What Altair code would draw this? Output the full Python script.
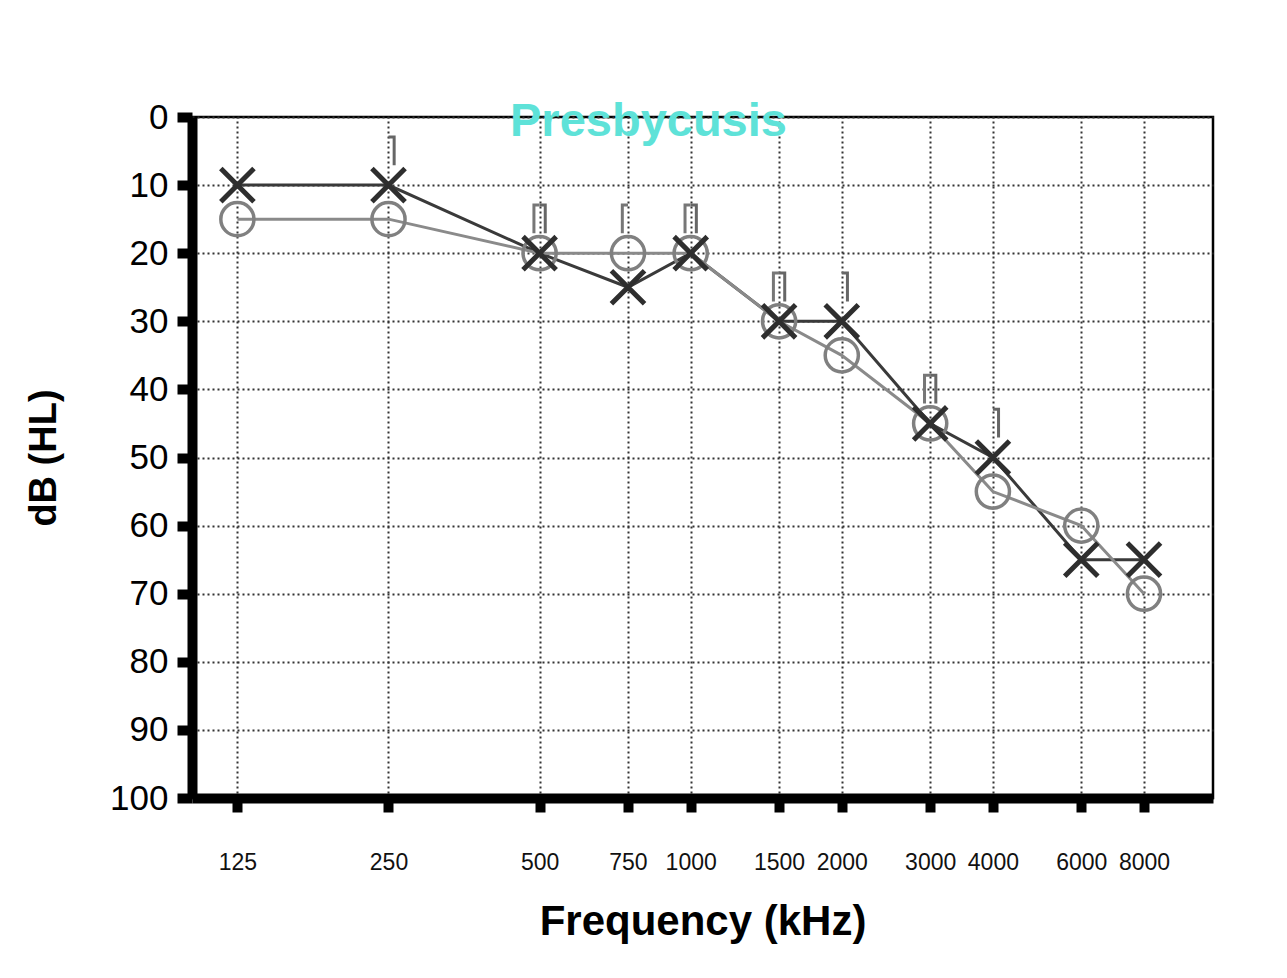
import altair as alt
import pandas as pd

# ---- data ----
freqs = [125, 250, 500, 750, 1000, 1500, 2000, 3000, 4000, 6000, 8000]
left_air_x = [10, 10, 20, 25, 20, 30, 30, 45, 50, 65, 65]      # X markers
right_air_o = [15, 15, 20, 20, 20, 30, 35, 45, 55, 60, 70]     # O markers

bone_a_freqs = [250, 500, 1000, 1500, 2000, 3000, 4000]        # right-hand bracket
bone_a_vals = [5, 15, 15, 25, 25, 40, 45]
bone_b_freqs = [500, 750, 1000, 1500, 3000]                     # left-hand bracket
bone_b_vals = [15, 15, 15, 25, 40]

y_ticks = [0, 10, 20, 30, 40, 50, 60, 70, 80, 90, 100]

df_x = pd.DataFrame({"freq": freqs, "db": left_air_x})
df_o = pd.DataFrame({"freq": freqs, "db": right_air_o})
df_ba = pd.DataFrame({"freq": bone_a_freqs, "db": bone_a_vals})
df_bb = pd.DataFrame({"freq": bone_b_freqs, "db": bone_b_vals})

FONT = "Liberation Sans"

x_enc = alt.X(
    "freq:Q",
    scale=alt.Scale(type="log", domain=[101.5, 10980], nice=False),
    axis=alt.Axis(
        values=freqs, format="d", title="Frequency (kHz)",
        labelFontSize=23, labelColor="#111", labelPadding=39,
        tickSize=14, tickWidth=10, tickColor="black",
        domainWidth=10, domainColor="black",
        titleFontSize=42, titleFontWeight="bold", titleColor="black", titlePadding=27,
        grid=True, gridDash=[2, 3], gridWidth=2, gridColor="#333",
        labelFlush=False,
    ),
)
y_enc = alt.Y(
    "db:Q",
    scale=alt.Scale(domain=[0, 100], reverse=True, nice=False),
    axis=alt.Axis(
        values=y_ticks, title="dB (HL)",
        labelFontSize=35, labelColor="black", labelPadding=9,
        tickSize=15, tickWidth=10, tickColor="black",
        domainWidth=10, domainColor="black",
        titleFontSize=38, titleFontWeight="bold", titleColor="black", titlePadding=46,
        grid=True, gridDash=[2, 3], gridWidth=2, gridColor="#333",
        labelFlush=False,
    ),
)

X_PATH = "M-1,-1L1,1M-1,1L1,-1"
BRACKET_A = "M0,-1L0.4,-1L0.4,1"
BRACKET_B = "M0,-1L-0.4,-1L-0.4,1"

line_x = alt.Chart(df_x).mark_line(color="#3a3a3a", strokeWidth=3).encode(x=x_enc, y=y_enc)
line_o = alt.Chart(df_o).mark_line(color="#8a8a8a", strokeWidth=3).encode(x=x_enc, y=y_enc)
pts_o = alt.Chart(df_o).mark_point(
    shape="circle", size=1100, filled=False, color="#808080", strokeWidth=3.5, opacity=1
).encode(x=x_enc, y=y_enc)
pts_x = alt.Chart(df_x).mark_point(
    shape=X_PATH, size=1100, filled=False, color="#2e2e2e", strokeWidth=5, opacity=1
).encode(x=x_enc, y=y_enc)
bone_a = alt.Chart(df_ba).mark_point(
    shape=BRACKET_A, size=800, filled=False, color="#666666", strokeWidth=3, opacity=1
).encode(x=x_enc, y=y_enc)
bone_b = alt.Chart(df_bb).mark_point(
    shape=BRACKET_B, size=800, filled=False, color="#777777", strokeWidth=3, opacity=1
).encode(x=x_enc, y=y_enc)

chart = alt.layer(line_x, line_o, pts_o, pts_x, bone_a, bone_b).properties(
    width=1021,
    height=681,
    autosize=alt.AutoSizeParams(type="none"),
    padding={"left": 184, "top": 109, "right": 60, "bottom": 172},
    title=alt.TitleParams(
        text="Presbycusis", fontSize=47, font=FONT, fontWeight="bold",
        color="#5ee2d8", anchor="start", frame="group",
        baseline="alphabetic", offset=0, dx=318, dy=83,
    ),
).configure(
    font=FONT,
).configure_view(
    stroke="black", strokeWidth=2.5,
).configure_axis(
    labelFont=FONT, titleFont=FONT,
)

chart.save("out.html", embed_options={"renderer": "svg", "actions": False})
